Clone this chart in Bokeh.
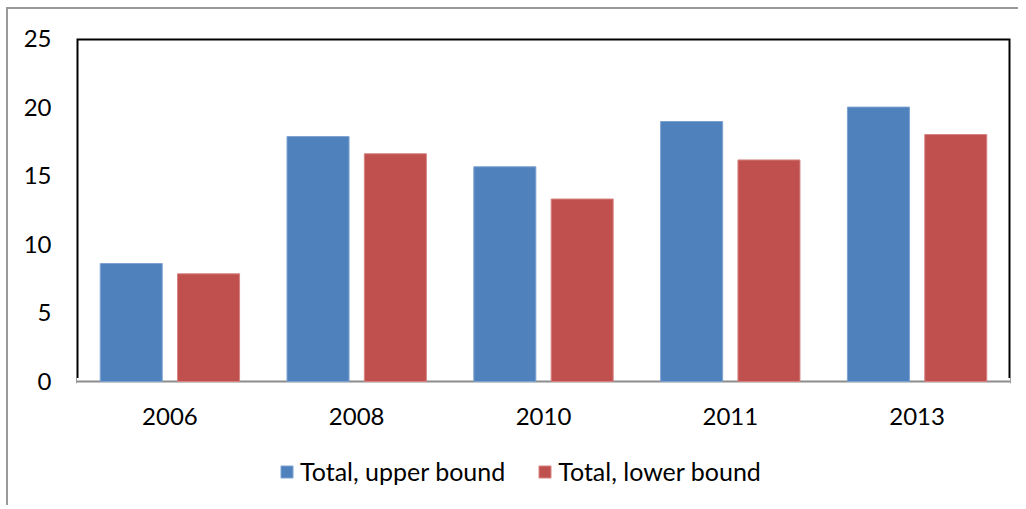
from bokeh.plotting import figure
from bokeh.models import (FactorRange, Range1d, Legend, LegendItem, ColumnDataSource,
                          BoxAnnotation, Span)
from bokeh.transform import dodge
from bokeh.core.properties import value
from bokeh.embed import file_html
from bokeh.resources import INLINE

years = ["2006", "2008", "2010", "2011", "2013"]
upper = [8.6, 17.85, 15.65, 18.95, 20.0]
lower = [7.85, 16.6, 13.3, 16.15, 18.0]
y_ticks = [0, 5, 10, 15, 20, 25]
series_names = ["Total, upper bound", "Total, lower bound"]

FONT = "Lato"
W, H = 1012, 498
TOP, LEFT, RIGHT = 29, 68, 10
PLOT_H = 343          # pixel height of the 0..25 plotting box
Y_MAX = 25
frame_h = H - TOP
y_min = -Y_MAX * (frame_h - PLOT_H) / PLOT_H   # extends the frame down to hold labels + legend

src = ColumnDataSource(dict(year=years, upper=upper, lower=lower))

p = figure(x_range=FactorRange(*years, range_padding=0), y_range=Range1d(y_min, Y_MAX),
           width=W, height=H, output_backend="svg", toolbar_location=None,
           x_axis_location=None,
           min_border_left=LEFT, min_border_right=RIGHT, min_border_top=TOP, min_border_bottom=0)
p.styles = {"border-left": "2px solid #999999", "border-top": "2px solid #999999",
            "margin-left": "6px", "margin-top": "7px"}
p.outline_line_color = None
p.xgrid.visible = False
p.ygrid.visible = False

# plot-area box (black), bottom edge grey like the category axis; drawn beneath the bars
p.add_layout(BoxAnnotation(bottom=0, top=Y_MAX, fill_alpha=0, line_color="black",
                           line_alpha=1, line_width=4, level="underlay"))
p.add_layout(Span(location=0, dimension="width", line_color="white", line_width=7,
                  level="underlay"))
p.add_layout(Span(location=0, dimension="width", line_color="#8c8c8c", line_width=2,
                  level="underlay"))

r1 = p.vbar(x=dodge("year", -0.207, range=p.x_range), top="upper", width=0.332, source=src,
            fill_color="#4F81BD", line_color="#7DA2D0", line_width=1)
r2 = p.vbar(x=dodge("year", 0.207, range=p.x_range), top="lower", width=0.332, source=src,
            fill_color="#C0504D", line_color="#D68482", line_width=1)

# category labels
p.text(x="year", y=0, text="year", source=src, y_offset=35,
       text_align="center", text_baseline="middle",
       text_font=value(FONT), text_font_size="24px", text_color="black")

p.yaxis.ticker = y_ticks
p.yaxis.axis_line_color = None
p.yaxis.major_tick_line_color = None
p.yaxis.minor_tick_line_color = None
p.yaxis.major_tick_out = 0
p.yaxis.major_label_standoff = 25
p.yaxis.major_label_text_font = FONT
p.yaxis.major_label_text_font_size = "24px"
p.yaxis.major_label_text_color = "black"

legend = Legend(items=[LegendItem(label=series_names[0], renderers=[r1]),
                       LegendItem(label=series_names[1], renderers=[r2])],
                orientation="horizontal", location=(203, 21),
                glyph_width=15, glyph_height=15, label_standoff=6, spacing=32,
                padding=0, margin=0, border_line_color=None, background_fill_alpha=0,
                label_text_font=FONT, label_text_font_size="25px", label_text_color="black")
p.add_layout(legend, "center")

open("out.html", "w").write(file_html(p, INLINE))
